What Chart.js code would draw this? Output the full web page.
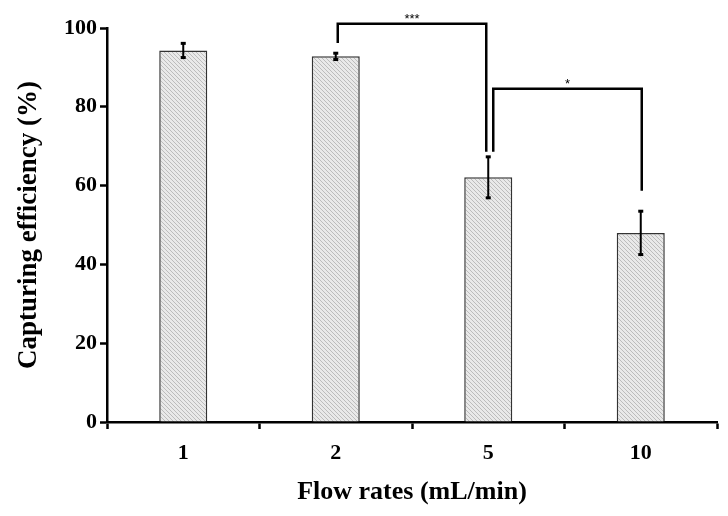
<!DOCTYPE html>
<html>
<head>
<meta charset="utf-8">
<script src="https://cdn.jsdelivr.net/npm/chart.js@4"></script>
<style>
    html, body { margin: 0; padding: 0; background: #ffffff; }
    #chart { display: block; }
</style>
</head>
<body>
<canvas id="chart" width="728" height="516"></canvas>
<script>
// Capturing efficiency vs flow rate, bars with error bars and significance brackets
const categories = ['1', '2', '5', '10'];
const efficiency = [94.3, 92.8, 62.1, 48.0];
const errors = [1.8, 0.8, 5.2, 5.5];
const yTickValues = [0, 20, 40, 60, 80, 100];

// significance brackets: category indexes, heights (data units) and labels
const bracketFrom = [1, 2];
const bracketTo = [2, 3];
const bracketTop = [101.1, 84.6];
const bracketLeftEnd = [96.2, 68.6];
const bracketRightEnd = [68.6, 58.7];
const bracketLabels = ['***', '*'];

const serif = '"Liberation Serif", "Times New Roman", serif';

function makeHatch() {
    const tile = document.createElement('canvas');
    tile.width = 4;
    tile.height = 4;
    const c = tile.getContext('2d');
    c.fillStyle = '#e9e9e9';
    c.fillRect(0, 0, 4, 4);
    c.strokeStyle = '#bcbcbc';
    c.lineWidth = 1;
    c.beginPath();
    c.moveTo(-1, -1); c.lineTo(5, 5);
    c.moveTo(-1, 3); c.lineTo(1, 5);
    c.moveTo(3, -1); c.lineTo(5, 1);
    c.stroke();
    return document.getElementById('chart').getContext('2d').createPattern(tile, 'repeat');
}

const errorBarPlugin = {
    id: 'errorBars',
    afterDatasetsDraw(chart) {
        const ctx = chart.ctx;
        const x = chart.scales.x;
        const y = chart.scales.y;
        ctx.save();
        ctx.strokeStyle = '#000';
        ctx.fillStyle = '#000';
        ctx.lineWidth = 2;
        efficiency.forEach((v, i) => {
            const px = x.getPixelForValue(i);
            const top = y.getPixelForValue(v + errors[i]);
            const bottom = y.getPixelForValue(v - errors[i]);
            ctx.beginPath();
            ctx.moveTo(px, top);
            ctx.lineTo(px, bottom);
            ctx.stroke();
            ctx.fillRect(px - 2.5, top - 1.5, 5, 3);
            ctx.fillRect(px - 2.5, bottom - 1.5, 5, 3);
        });
        ctx.restore();
    }
};

const bracketPlugin = {
    id: 'brackets',
    afterDatasetsDraw(chart) {
        const ctx = chart.ctx;
        const x = chart.scales.x;
        const y = chart.scales.y;
        // small pixel nudges so the two legs over bar "5" do not overlap
        const leftNudge = [2, 5];
        const rightNudge = [-2, 1];
        ctx.save();
        ctx.strokeStyle = '#000';
        ctx.lineWidth = 2.5;
        ctx.lineJoin = 'miter';
        bracketFrom.forEach((from, i) => {
            const x1 = x.getPixelForValue(from) + leftNudge[i];
            const x2 = x.getPixelForValue(bracketTo[i]) + rightNudge[i];
            const yTop = y.getPixelForValue(bracketTop[i]);
            ctx.beginPath();
            ctx.moveTo(x1, y.getPixelForValue(bracketLeftEnd[i]));
            ctx.lineTo(x1, yTop);
            ctx.lineTo(x2, yTop);
            ctx.lineTo(x2, y.getPixelForValue(bracketRightEnd[i]));
            ctx.stroke();

            ctx.fillStyle = '#000';
            ctx.font = '13px "Liberation Sans", Arial, sans-serif';
            ctx.textAlign = 'center';
            ctx.textBaseline = 'bottom';
            ctx.fillText(bracketLabels[i], (x1 + x2) / 2, yTop + 2);
        });
        ctx.restore();
    }
};

const ctx = document.getElementById('chart');

new Chart(ctx, {
    type: 'bar',
    data: {
        labels: categories,
        datasets: [{
            data: efficiency,
            backgroundColor: makeHatch(),
            borderColor: '#333333',
            borderWidth: 1.5,
            barPercentage: 0.315,
            categoryPercentage: 1
        }]
    },
    options: {
        responsive: false,
        animation: false,
        layout: {
            padding: { top: 28, right: 11, left: 0, bottom: 0 }
        },
        plugins: {
            legend: { display: false },
            tooltip: { enabled: false }
        },
        scales: {
            x: {
                offset: true,
                border: { display: true, color: '#000', width: 2.5 },
                grid: {
                    offset: true,
                    drawOnChartArea: false,
                    drawTicks: true,
                    tickLength: 7,
                    tickColor: '#000',
                    tickWidth: 2.5
                },
                ticks: {
                    color: '#000',
                    padding: 11,
                    font: { family: serif, size: 22, weight: 'bold' }
                },
                title: {
                    display: true,
                    text: 'Flow rates (mL/min)',
                    color: '#000',
                    padding: { top: 0, bottom: 8 },
                    font: { family: serif, size: 26, weight: 'bold' }
                },
                afterFit(scale) {
                    scale.height = 94;
                }
            },
            y: {
                min: 0,
                max: 100,
                border: { display: true, color: '#000', width: 2.5 },
                grid: {
                    drawOnChartArea: false,
                    drawTicks: true,
                    tickLength: 7,
                    tickColor: '#000',
                    tickWidth: 2.5
                },
                afterBuildTicks(scale) {
                    scale.ticks = yTickValues.map((v) => ({ value: v }));
                },
                ticks: {
                    color: '#000',
                    padding: 3,
                    font: { family: serif, size: 22, weight: 'bold' }
                },
                title: {
                    display: true,
                    text: 'Capturing efficiency (%)',
                    color: '#000',
                    padding: { top: 13, bottom: 0 },
                    font: { family: serif, size: 27, weight: 'bold' }
                },
                afterFit(scale) {
                    scale.width = 107;
                }
            }
        }
    },
    plugins: [errorBarPlugin, bracketPlugin]
});
</script>
</body>
</html>
